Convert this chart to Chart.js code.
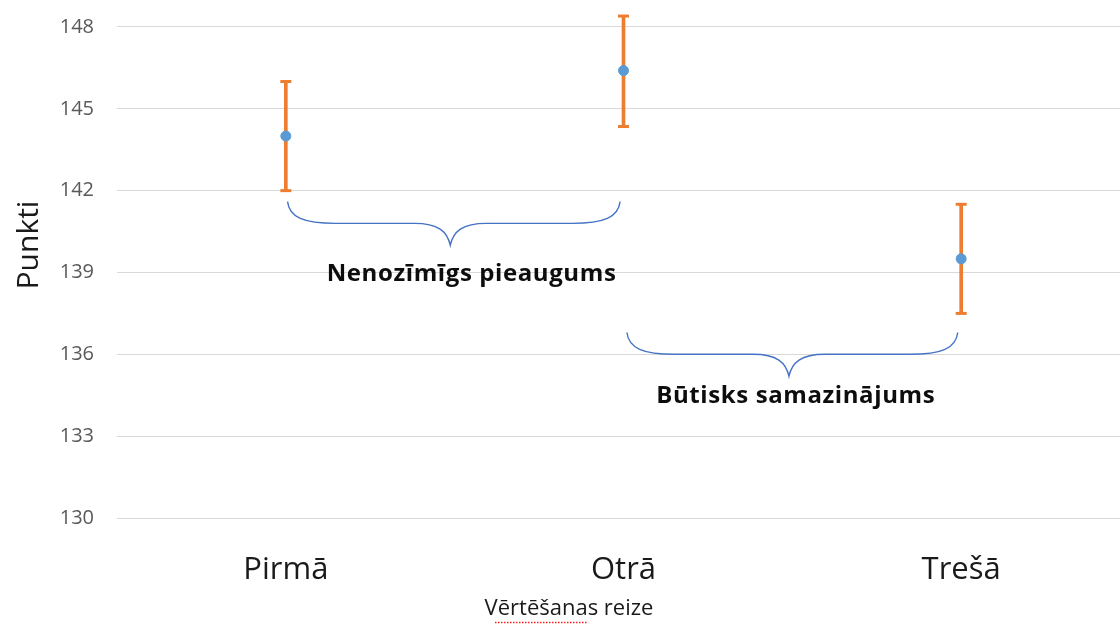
<!DOCTYPE html>
<html lang="lv">
<head>
  <meta charset="UTF-8" />
  <title>Punkti pa vērtēšanas reizēm</title>
  <script src="https://cdn.jsdelivr.net/npm/chart.js"></script>
  <style>
    html, body { margin: 0; padding: 0; background: #fff; overflow: hidden; }
    #wrap { width: 1130px; height: 625px; position: relative; }
  </style>
</head>
<body>
  <div id="wrap"><canvas id="chart"></canvas></div>

  <script>
    // dati
    const categories = ['Pirmā', 'Otrā', 'Trešā'];
    const means = [144.0, 146.4, 139.5];
    const upper = [146.0, 148.4, 141.5];
    const lower = [142.0, 144.35, 137.5];
    const yTicks = [130, 133, 136, 139, 142, 145, 148];
    const yMin = 130, yMax = 148.6;

    const braceLabels = ['Nenozīmīgs pieaugums', 'Būtisks samazinājums'];
    // iekavas: no/līdz kategorijas indeksā, augša/vidus/gals vērtībās
    const braces = [
      { from: 0.005, to: 0.99, tip: 0.487, top: 141.6, mid: 140.8, end: 140.0, lx: 0.55, ly: 138.95 },
      { from: 1.01, to: 1.99, tip: 1.49, top: 136.8, mid: 136.0, end: 135.2, lx: 1.51, ly: 134.45 }
    ];

    const BLUE = '#5B9BD5';
    const ORANGE = '#ED7D31';

    function drawBrace(ctx, x0, x1, xc, yTop, yMid, yTip) {
      ctx.beginPath();
      ctx.moveTo(x0, yTop);
      ctx.bezierCurveTo(x0 + 2, yMid - 6, x0 + 16, yMid, x0 + 48, yMid);
      ctx.lineTo(xc - 36, yMid);
      ctx.bezierCurveTo(xc - 12, yMid, xc - 3, yMid + 8, xc, yTip);
      ctx.bezierCurveTo(xc + 3, yMid + 8, xc + 12, yMid, xc + 36, yMid);
      ctx.lineTo(x1 - 48, yMid);
      ctx.bezierCurveTo(x1 - 16, yMid, x1 - 2, yMid - 6, x1, yTop);
      ctx.stroke();
    }

    const annotations = {
      id: 'annotations',
      afterDraw(chart) {
        const { ctx, scales: { x, y } } = chart;
        const px = v => {
          const i = Math.floor(v);
          const a = x.getPixelForValue(i);
          const b = x.getPixelForValue(i + 1);
          return a + (b - a) * (v - i);
        };
        ctx.save();
        ctx.strokeStyle = '#4472C4';
        ctx.lineWidth = 1.4;
        braces.forEach((b, k) => {
          drawBrace(ctx, px(b.from), px(b.to), px(b.tip),
            y.getPixelForValue(b.top), y.getPixelForValue(b.mid), y.getPixelForValue(b.end));
          ctx.fillStyle = '#0d0d0d';
          ctx.font = 'bold 24px "Open Sans"';
          ctx.letterSpacing = '0.6px';
          ctx.textAlign = 'center';
          ctx.textBaseline = 'middle';
          ctx.fillText(braceLabels[k], px(b.lx), y.getPixelForValue(b.ly));
          ctx.letterSpacing = '0px';
        });

        // ass nosaukumi
        ctx.fillStyle = '#1a1a1a';
        ctx.font = '22px "Open Sans"';
        ctx.fillText('Vērtēšanas reize', 569, 609);
        // pareizrakstības pasvītrojums
        ctx.strokeStyle = '#ff2020';
        ctx.lineWidth = 1.5;
        ctx.setLineDash([1.5, 1.5]);
        ctx.beginPath();
        ctx.moveTo(495, 622.5);
        ctx.lineTo(588, 622.5);
        ctx.stroke();
        ctx.setLineDash([]);

        ctx.translate(29, 245);
        ctx.rotate(-Math.PI / 2);
        ctx.font = '30px "Open Sans"';
        ctx.fillStyle = '#1a1a1a';
        ctx.fillText('Punkti', 0, 0);
        ctx.restore();
      }
    };

    new Chart(document.getElementById('chart'), {
      data: {
        labels: categories,
        datasets: [
          {
            type: 'line',
            label: 'Vidējais',
            data: means,
            showLine: false,
            pointRadius: 5,
            pointBackgroundColor: BLUE,
            pointBorderColor: BLUE,
            order: 0,
            clip: false
          },
          {
            type: 'line',
            label: 'Augša',
            data: upper,
            showLine: false,
            pointStyle: 'line',
            pointRadius: 5.5,
            pointBorderWidth: 3,
            pointBorderColor: ORANGE,
            order: 1,
            clip: false
          },
          {
            type: 'line',
            label: 'Apakša',
            data: lower,
            showLine: false,
            pointStyle: 'line',
            pointRadius: 5.5,
            pointBorderWidth: 3,
            pointBorderColor: ORANGE,
            order: 1,
            clip: false
          },
          {
            type: 'bar',
            label: 'Kļūda',
            data: lower.map((l, i) => [l, upper[i]]),
            backgroundColor: ORANGE,
            barThickness: 3,
            order: 2,
            clip: false
          }
        ]
      },
      options: {
        responsive: true,
        maintainAspectRatio: false,
        animation: false,
        layout: { autoPadding: false, padding: { top: 10.6, right: 0, left: 0, bottom: 0 } },
        plugins: {
          legend: { display: false },
          tooltip: { enabled: false }
        },
        scales: {
          x: {
            offset: true,
            grid: { display: false },
            border: { display: false },
            ticks: {
              color: '#1a1a1a',
              font: { family: 'Open Sans', size: 31 },
              padding: 26
            },
            afterFit(s) { s.height = 107; }
          },
          y: {
            min: yMin,
            max: yMax,
            grid: { color: '#d9d9d9', lineWidth: 1, drawTicks: false },
            border: { display: false },
            ticks: {
              color: '#595959',
              font: { family: 'Open Sans', size: 20 },
              padding: 23
            },
            afterBuildTicks(s) {
              s.ticks = yTicks.map(v => ({ value: v }));
            },
            afterFit(s) {
              s.width = 117;
              s.paddingTop = 0;
              s.paddingBottom = 0;
            }
          }
        }
      },
      plugins: [annotations]
    });
  </script>
</body>
</html>
